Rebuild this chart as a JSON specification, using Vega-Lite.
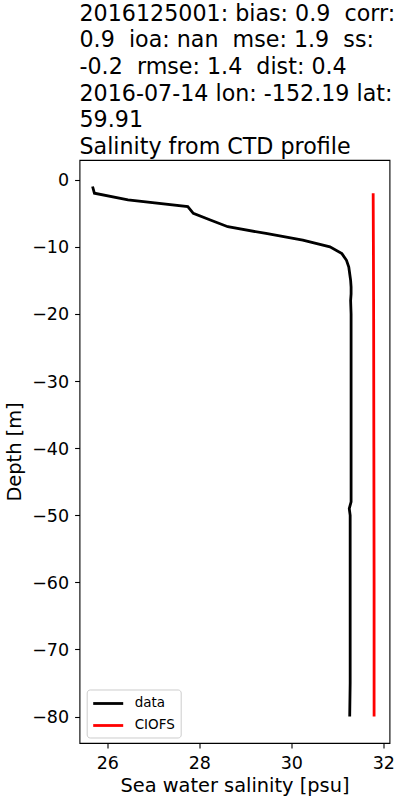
{
  "$schema": "https://vega.github.io/schema/vega-lite/v6.json",
  "width": 310,
  "height": 583,
  "autosize": {"type": "none"},
  "padding": {"left": 79.5, "top": 160, "right": 10.5, "bottom": 57.3},
  "background": "white",
  "config": {
    "font": "DejaVu Sans",
    "view": {"stroke": "black", "strokeWidth": 1.1}
  },
  "title": {
    "text": [
      "2016125001: bias: 0.9 \u00a0corr:",
      "0.9 \u00a0ioa: nan \u00a0mse: 1.9 \u00a0ss:",
      "-0.2 \u00a0rmse: 1.4 \u00a0dist: 0.4",
      "2016-07-14 lon: -152.19 lat:",
      "59.91",
      "Salinity from CTD profile"
    ],
    "anchor": "start",
    "frame": "group",
    "font": "DejaVu Sans",
    "fontSize": 22.2,
    "fontWeight": "normal",
    "lineHeight": 26.6,
    "offset": 2,
    "color": "black"
  },
  "data": {
    "values": [
      {"series": "data", "depth": -1, "salinity": 25.68},
      {"series": "data", "depth": -2, "salinity": 25.72},
      {"series": "data", "depth": -3, "salinity": 26.45},
      {"series": "data", "depth": -4, "salinity": 27.75},
      {"series": "data", "depth": -5, "salinity": 27.87},
      {"series": "data", "depth": -6, "salinity": 28.24},
      {"series": "data", "depth": -7, "salinity": 28.62},
      {"series": "data", "depth": -8, "salinity": 29.45},
      {"series": "data", "depth": -9, "salinity": 30.25},
      {"series": "data", "depth": -10, "salinity": 30.84},
      {"series": "data", "depth": -11, "salinity": 31.1},
      {"series": "data", "depth": -12, "salinity": 31.2},
      {"series": "data", "depth": -13, "salinity": 31.25},
      {"series": "data", "depth": -14, "salinity": 31.27},
      {"series": "data", "depth": -15, "salinity": 31.29},
      {"series": "data", "depth": -16, "salinity": 31.3},
      {"series": "data", "depth": -17, "salinity": 31.3},
      {"series": "data", "depth": -18, "salinity": 31.29},
      {"series": "data", "depth": -20, "salinity": 31.3},
      {"series": "data", "depth": -25, "salinity": 31.3},
      {"series": "data", "depth": -30, "salinity": 31.3},
      {"series": "data", "depth": -35, "salinity": 31.3},
      {"series": "data", "depth": -40, "salinity": 31.3},
      {"series": "data", "depth": -45, "salinity": 31.3},
      {"series": "data", "depth": -48, "salinity": 31.3},
      {"series": "data", "depth": -49, "salinity": 31.26},
      {"series": "data", "depth": -50, "salinity": 31.28},
      {"series": "data", "depth": -55, "salinity": 31.28},
      {"series": "data", "depth": -60, "salinity": 31.28},
      {"series": "data", "depth": -65, "salinity": 31.28},
      {"series": "data", "depth": -70, "salinity": 31.28},
      {"series": "data", "depth": -75, "salinity": 31.28},
      {"series": "data", "depth": -80, "salinity": 31.27},
      {"series": "CIOFS", "depth": -2, "salinity": 31.78},
      {"series": "CIOFS", "depth": -10, "salinity": 31.785},
      {"series": "CIOFS", "depth": -20, "salinity": 31.79},
      {"series": "CIOFS", "depth": -40, "salinity": 31.795},
      {"series": "CIOFS", "depth": -60, "salinity": 31.8},
      {"series": "CIOFS", "depth": -80, "salinity": 31.8}
    ]
  },
  "mark": {"type": "line", "strokeWidth": 2.8, "clip": true},
  "encoding": {
    "x": {
      "field": "salinity",
      "type": "quantitative",
      "scale": {"domain": [25.396, 32.135], "nice": false, "zero": false},
      "axis": {
        "values": [26, 28, 30, 32],
        "format": "d",
        "title": "Sea water salinity [psu]",
        "grid": false,
        "domain": false,
        "tickColor": "black",
        "tickSize": 4.9,
        "tickWidth": 1.1,
        "labelColor": "black",
        "labelFont": "DejaVu Sans",
        "labelFontSize": 17.5,
        "labelPadding": 7,
        "titleFont": "DejaVu Sans",
        "titleFontSize": 19.4,
        "titleFontWeight": "normal",
        "titleColor": "black",
        "titlePadding": 4
      }
    },
    "y": {
      "field": "depth",
      "type": "quantitative",
      "scale": {"domain": [-83.95, 2.95], "nice": false, "zero": false},
      "axis": {
        "values": [0, -10, -20, -30, -40, -50, -60, -70, -80],
        "format": "d",
        "title": "Depth [m]",
        "grid": false,
        "domain": false,
        "tickColor": "black",
        "tickSize": 4.9,
        "tickWidth": 1.1,
        "labelColor": "black",
        "labelFont": "DejaVu Sans",
        "labelFontSize": 17.5,
        "labelPadding": 6,
        "labelOffset": 1,
        "titleFont": "DejaVu Sans",
        "titleFontSize": 19.4,
        "titleFontWeight": "normal",
        "titleColor": "black",
        "titlePadding": 7
      }
    },
    "color": {
      "field": "series",
      "type": "nominal",
      "scale": {"domain": ["data", "CIOFS"], "range": ["black", "red"]},
      "legend": {
        "title": null,
        "orient": "none",
        "legendX": 7.2,
        "legendY": 529.5,
        "symbolType": "M-1,0H3",
        "symbolSize": 225,
        "symbolStrokeWidth": 2.8,
        "labelFont": "DejaVu Sans",
        "labelFontSize": 13.5,
        "labelColor": "black",
        "labelOffset": 25,
        "rowPadding": 6,
        "padding": 5,
        "strokeColor": "#cccccc",
        "fillColor": "rgba(255,255,255,0.8)",
        "cornerRadius": 3
      }
    },
    "order": {"field": "depth", "sort": "descending"}
  }
}
